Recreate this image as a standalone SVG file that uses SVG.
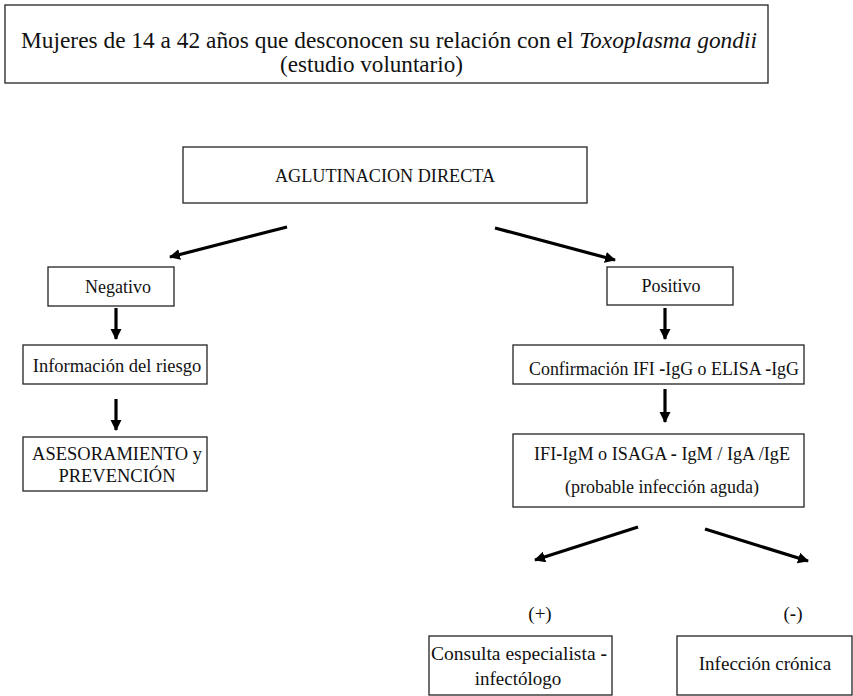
<svg xmlns="http://www.w3.org/2000/svg" width="853" height="696" viewBox="0 0 853 696">
<style>
.box{fill:#fff;stroke:#222;stroke-width:1.3}
.t{font-family:"Liberation Serif","Times New Roman","DejaVu Serif",serif;fill:#111;text-anchor:middle}
.s{text-anchor:start}
.b{font-weight:bold}
.con{stroke:#000;stroke-width:3.2;fill:none;marker-end:url(#ah)}
</style>
<defs>
<marker id="ah" markerUnits="userSpaceOnUse" markerWidth="12" markerHeight="12" refX="10" refY="5.5" orient="auto">
<path d="M0,0 L11,5.5 L0,11 z" fill="#000"/>
</marker>
</defs>
<rect width="853" height="696" fill="#fff"/>
<g id="n-top">
<rect class="box" x="5" y="5" width="763" height="78"/>
<text class="t s" x="21" y="48" font-size="23.3" textLength="736" lengthAdjust="spacingAndGlyphs">Mujeres de 14 a 42 años que desconocen su relación con el <tspan font-style="italic">Toxoplasma gondii</tspan></text>
<text class="t s" x="280" y="72" font-size="23.3" textLength="183" lengthAdjust="spacingAndGlyphs">(estudio voluntario)</text>
</g>
<g id="n-aglut">
<rect class="box" x="183" y="147" width="404" height="56"/>
<text class="t" x="385" y="182" font-size="19.5" textLength="220" lengthAdjust="spacingAndGlyphs">AGLUTINACION DIRECTA</text>
</g>
<g id="n-neg">
<rect class="box" x="48" y="267" width="126" height="39"/>
<text class="t" x="118" y="293" font-size="18">Negativo</text>
</g>
<g id="n-info">
<rect class="box" x="23" y="345" width="184" height="39"/>
<text class="t" x="117" y="372" font-size="18.5">Información del riesgo</text>
</g>
<g id="n-ases">
<rect class="box" x="23" y="437" width="184" height="54"/>
<text class="t" x="117" y="460" font-size="18.5">ASESORAMIENTO y</text>
<text class="t" x="117" y="482" font-size="18.5">PREVENCIÓN</text>
</g>
<g id="n-pos">
<rect class="box" x="607" y="267" width="126" height="38"/>
<text class="t" x="671" y="292" font-size="18">Positivo</text>
</g>
<g id="n-conf">
<rect class="box" x="513" y="345" width="291" height="39"/>
<text class="t" x="664" y="375" font-size="18" textLength="270" lengthAdjust="spacingAndGlyphs">Confirmación IFI <tspan class="b">-</tspan>IgG o ELISA <tspan class="b">-</tspan>IgG</text>
</g>
<g id="n-ifi">
<rect class="box" x="513" y="434" width="291" height="73"/>
<text class="t" x="662" y="460" font-size="18" textLength="256" lengthAdjust="spacingAndGlyphs">IFI<tspan class="b">-</tspan>IgM o ISAGA <tspan class="b">-</tspan> IgM / IgA /IgE</text>
<text class="t" x="662" y="493" font-size="18">(probable infección aguda)</text>
</g>
<g id="n-plus">
<text class="t" x="540" y="620" font-size="19">(+)</text>
</g>
<g id="n-minus">
<text class="t" x="793" y="620" font-size="19">(<tspan class="b">-</tspan>)</text>
</g>
<g id="n-cons">
<rect class="box" x="429" y="636" width="183" height="59"/>
<text class="t" x="519" y="660" font-size="19" textLength="176" lengthAdjust="spacingAndGlyphs">Consulta especialista <tspan class="b">-</tspan></text>
<text class="t" x="518" y="685" font-size="19">infectólogo</text>
</g>
<g id="n-cron">
<rect class="box" x="677" y="636" width="175" height="59"/>
<text class="t" x="765" y="670" font-size="19">Infección crónica</text>
</g>
<g id="connectors">
<line class="con" x1="287" y1="227" x2="170" y2="257"/>
<line class="con" x1="495" y1="228" x2="615" y2="260"/>
<line class="con" x1="116" y1="308" x2="116" y2="339"/>
<line class="con" x1="116" y1="399" x2="116" y2="430"/>
<line class="con" x1="665" y1="308" x2="665" y2="339"/>
<line class="con" x1="665" y1="389" x2="665" y2="422"/>
<line class="con" x1="638" y1="527" x2="535" y2="560"/>
<line class="con" x1="705" y1="529" x2="808" y2="561"/>
</g>
</svg>
